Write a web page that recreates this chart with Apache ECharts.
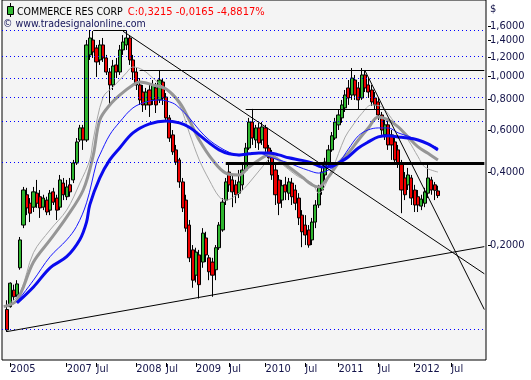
<!DOCTYPE html>
<html><head><meta charset="utf-8">
<script src="https://cdn.jsdelivr.net/npm/echarts@6/dist/echarts.min.js"></script>
<style>html,body{margin:0;padding:0;background:#fff}#c{width:531px;height:380px}</style>
</head><body><div id="c"></div>
<script>
// ---------- DATA ----------
const N_BARS = 146;             // category slots on the x axis (incl. empty future slots)
const firstBar = 1;             // category index of the first candle
const xLabelIdx  = [2, 19, 28, 40, 49, 58, 68, 79, 91, 101, 113, 124, 135];
const xLabelText = ['2005','2007','Jul','2008','Jul','2009','Jul','2010','Jul','2011','Jul','2012','Jul'];
const yTickValues = [0.2, 0.4, 0.6, 0.8, 1.0, 1.2, 1.4, 1.6];
const yMin = 0.0675, yMax = 2.058;

const opens = [0.109,0.112,0.131,0.125,0.162,0.243,0.324,0.299,0.288,0.329,0.318,0.288,0.308,0.280,0.333,0.314,0.288,0.362,0.318,0.356,
0.373,0.438,0.545,0.611,0.545,1.222,1.408,1.305,1.165,1.343,1.187,1.039,0.919,1.111,1.039,1.281,1.343,1.435,1.165,1.039,
0.919,0.859,0.760,0.876,0.797,0.893,0.797,0.945,0.819,0.672,0.572,0.496,0.451,0.366,0.308,0.243,0.192,0.151,0.183,0.171,
0.215,0.178,0.171,0.159,0.196,0.232,0.308,0.402,0.373,0.356,0.329,0.356,0.410,0.505,0.646,0.545,0.611,0.545,0.611,0.505,
0.473,0.410,0.373,0.308,0.356,0.329,0.362,0.339,0.314,0.267,0.243,0.232,0.211,0.250,0.294,0.339,0.391,0.438,0.496,0.555,
0.629,0.672,0.739,0.893,0.835,0.963,0.893,0.812,1.010,0.919,0.876,0.812,0.782,0.691,0.572,0.629,0.572,0.535,0.496,0.438,
0.380,0.356,0.380,0.339,0.318,0.291,0.299,0.329,0.373,0.356,0.336];
const closes = [0.0898,0.140,0.123,0.139,0.211,0.339,0.286,0.272,0.333,0.299,0.286,0.314,0.275,0.329,0.302,0.280,0.373,0.324,0.349,0.333,
0.438,0.535,0.611,0.545,1.343,1.435,1.257,1.143,1.343,1.187,1.039,0.919,1.100,1.039,1.281,1.381,1.435,1.165,1.039,0.919,
0.797,0.760,0.859,0.760,0.919,0.760,0.963,0.812,0.672,0.555,0.487,0.442,0.366,0.286,0.236,0.178,0.144,0.188,0.138,0.225,
0.183,0.156,0.151,0.196,0.243,0.302,0.366,0.356,0.333,0.324,0.366,0.410,0.505,0.646,0.555,0.611,0.530,0.617,0.505,0.460,
0.391,0.324,0.299,0.353,0.333,0.366,0.318,0.299,0.260,0.228,0.221,0.201,0.250,0.294,0.346,0.402,0.442,0.496,0.567,0.646,
0.691,0.760,0.835,0.812,0.981,0.835,0.797,1.010,0.893,0.859,0.782,0.760,0.691,0.599,0.629,0.520,0.520,0.451,0.438,0.339,
0.324,0.391,0.314,0.294,0.294,0.311,0.333,0.380,0.339,0.338,0.3215];
const lows = [0.0881,0.111,0.119,0.123,0.159,0.236,0.267,0.250,0.275,0.286,0.260,0.280,0.267,0.267,0.294,0.255,0.280,0.308,0.308,0.318,
0.362,0.430,0.535,0.496,0.535,1.165,1.187,0.991,1.111,1.143,1.010,0.746,0.876,0.981,1.010,1.222,1.281,1.111,0.963,0.876,
0.760,0.711,0.725,0.678,0.760,0.704,0.774,0.760,0.646,0.535,0.473,0.430,0.346,0.275,0.228,0.171,0.134,0.141,0.121,0.162,
0.171,0.144,0.123,0.144,0.192,0.228,0.294,0.333,0.288,0.299,0.314,0.339,0.402,0.496,0.520,0.505,0.496,0.520,0.487,0.430,
0.373,0.294,0.267,0.286,0.308,0.308,0.294,0.280,0.243,0.197,0.201,0.196,0.201,0.236,0.286,0.324,0.373,0.418,0.487,0.545,
0.599,0.641,0.711,0.760,0.797,0.797,0.725,0.797,0.859,0.812,0.753,0.725,0.659,0.572,0.545,0.496,0.451,0.430,0.418,0.272,
0.308,0.339,0.294,0.275,0.275,0.280,0.288,0.314,0.324,0.308,0.314];
const highs = [0.119,0.141,0.138,0.144,0.217,0.349,0.346,0.314,0.349,0.373,0.339,0.324,0.318,0.339,0.346,0.324,0.391,0.380,0.373,0.380,
0.451,0.555,0.629,0.629,1.408,1.548,1.533,1.343,1.408,1.435,1.222,1.079,1.165,1.187,1.343,1.475,1.548,1.475,1.222,1.079,
0.981,0.919,0.893,0.919,0.963,0.937,1.059,0.981,0.851,0.691,0.599,0.520,0.460,0.380,0.324,0.255,0.201,0.196,0.192,0.236,
0.228,0.183,0.178,0.201,0.250,0.314,0.380,0.430,0.391,0.373,0.410,0.430,0.530,0.672,0.732,0.629,0.641,0.646,0.629,0.520,
0.496,0.430,0.391,0.373,0.384,0.380,0.380,0.356,0.329,0.280,0.267,0.243,0.260,0.308,0.356,0.418,0.460,0.520,0.588,0.672,
0.725,0.797,0.876,0.963,1.079,1.010,0.945,1.079,1.059,0.981,0.919,0.859,0.812,0.711,0.659,0.659,0.599,0.555,0.520,0.451,
0.402,0.418,0.391,0.356,0.339,0.324,0.346,0.430,0.384,0.366,0.353];

// moving-average lines (category index / value)
const maThinGrayIdx = [2,5,9,14,19,23,26,27,30,33,37,39,42,45,49,53,56,59,62,65,67,71,74,79,81,85,89,93,95,99,103,105,108,111,114,118,122,125,127,131];
const maThinGrayVal = [0.116,0.128,0.187,0.232,0.280,0.362,0.451,0.545,0.819,0.901,1.030,1.090,1.059,0.981,0.876,0.760,0.583,0.451,0.373,0.318,0.308,0.329,0.362,0.438,0.465,0.422,0.384,0.362,0.329,0.410,0.560,0.617,0.700,0.760,0.746,0.641,0.545,0.465,0.422,0.402];
const maThickGrayIdx = [0,4,9,14,19,24,27,29,32,35,39,41,45,49,53,56,59,63,67,71,74,77,80,83,86,90,93,95,98,101,104,107,110,113,116,119,122,125,128,131];
const maThickGrayVal = [0.112,0.119,0.171,0.211,0.262,0.339,0.470,0.659,0.760,0.835,0.919,0.945,0.919,0.884,0.780,0.659,0.545,0.451,0.398,0.391,0.422,0.451,0.473,0.451,0.422,0.384,0.356,0.349,0.384,0.438,0.482,0.545,0.610,0.678,0.659,0.617,0.561,0.510,0.480,0.451];
const maThinBlueIdx = [4,9,14,19,22,25,28,29,32,35,39,43,47,51,53,56,59,62,65,68,71,74,77,80,83,86,89,92,95,98,101,104,107,110,113,116,119,122,125,128,131];
const maThinBlueVal = [0.117,0.144,0.180,0.211,0.240,0.300,0.438,0.473,0.572,0.646,0.739,0.782,0.797,0.774,0.739,0.672,0.599,0.545,0.510,0.485,0.469,0.475,0.482,0.465,0.451,0.438,0.422,0.408,0.398,0.410,0.438,0.500,0.567,0.600,0.611,0.611,0.583,0.565,0.545,0.525,0.505];
const maThickBlueIdx = [4,9,14,19,23,25,26,29,32,35,39,44,49,53,56,59,62,65,68,71,74,77,80,83,86,90,93,96,99,101,104,107,110,113,116,119,122,125,128,131];
const maThickBlueVal = [0.116,0.135,0.162,0.180,0.212,0.250,0.295,0.380,0.451,0.505,0.583,0.635,0.653,0.641,0.615,0.572,0.530,0.496,0.478,0.473,0.478,0.482,0.482,0.473,0.460,0.449,0.438,0.422,0.425,0.438,0.465,0.505,0.535,0.561,0.567,0.561,0.555,0.545,0.525,0.496];

// dotted horizontal levels and drawn trend / support lines
const dottedLevels = [1.538, 1.209, 0.984, 0.817, 0.653, 0.437, 0.0892];
const lineFrom  = [[27,1.54],[41,1.059],[73,0.729],[67,0.435],[36,1.53],[1,0.0884],[109,1.052]];
const lineTo    = [[37,1.54],[145,1.059],[145,0.729],[145,0.435],[145,0.153],[145,0.198],[145,0.109]];
const lineWidth = [1,1,1,3,1,1,1];

// ---------- CHART ----------
const FONT = "'DejaVu Sans Condensed','Liberation Sans Narrow','DejaVu Sans',sans-serif";
const AX_COLOR = '#14144a';
const cats = Array.from({length: N_BARS}, (_, i) => 'b' + i);
const labelMap = {};
xLabelIdx.forEach((k, j) => { labelMap[k] = xLabelText[j]; });
const candleData = cats.map((_, i) => {
  const k = i - firstBar;
  return (k >= 0 && k < opens.length) ? [opens[k], closes[k], lows[k], highs[k]] : '-';
});
const ma = (idx, vals, color, width) => ({
  type: 'line', data: idx.map((x, j) => [x, vals[j]]), smooth: 0.35, symbol: 'none',
  lineStyle: {color: color, width: width}, silent: true, z: 4
});
const mlData = [];
dottedLevels.forEach(v => mlData.push({yAxis: v, lineStyle: {color: '#0000ff', width: 1, type: [1, 3]}}));
lineFrom.forEach((f, j) => mlData.push([
  {coord: f, lineStyle: {color: '#000', width: lineWidth[j], type: 'solid'}},
  {coord: lineTo[j]}
]));

const chart = echarts.init(document.getElementById('c'));
chart.setOption({
  animation: false,
  backgroundColor: '#ffffff',
  title: [
    {left: 17, top: 3, padding: 0,
     text: '{a|COMMERCE RES CORP} {b|C:0,3215 -0,0165 -4,8817%}',
     textStyle: {fontWeight: 'normal', rich: {
       a: {color: '#000', fontSize: 10.5, fontWeight: 'normal', fontFamily: FONT},
       b: {color: '#ff0000', fontSize: 11, fontWeight: 'normal', fontFamily: FONT}}}},
    {left: 3, top: 19, padding: 0, text: '\u00a9 www.tradesignalonline.com',
     textStyle: {color: '#14145a', fontSize: 10.5, fontWeight: 'normal', fontFamily: FONT}}
  ],
  graphic: [
    {type: 'line', shape: {x1: 10.5, y1: 3, x2: 10.5, y2: 17}, style: {stroke: '#000', lineWidth: 1}, z: 100},
    {type: 'rect', shape: {x: 7.5, y: 6.5, width: 6, height: 8}, style: {fill: '#33bb33', stroke: '#000', lineWidth: 1}, z: 101},
    {type: 'text', left: 490, top: 4, style: {text: '$', fill: AX_COLOR, font: '11px ' + FONT}}
  ],
  grid: {left: 2, right: 45, top: 0, bottom: 20, show: true, backgroundColor: '#f4f4f4', borderColor: '#000', borderWidth: 1},
  xAxis: {
    type: 'category', data: cats, boundaryGap: true, offset: 3,
    axisLine: {show: false},
    axisTick: {show: true, alignWithLabel: true, length: 4, interval: i => (i in labelMap), lineStyle: {color: '#000'}},
    axisLabel: {interval: i => (i in labelMap), formatter: (v, i) => labelMap[i] || '', align: 'left', margin: 1,
      color: AX_COLOR, fontSize: 11, fontFamily: FONT},
    splitLine: {show: false}
  },
  yAxis: {
    type: 'log', position: 'right', min: yMin, max: yMax, offset: 2,
    axisLine: {show: false},
    axisTick: {show: true, length: 3, customValues: yTickValues, lineStyle: {color: '#000'}},
    axisLabel: {customValues: yTickValues, formatter: v => Number(v).toFixed(4).replace('.', ','), margin: 2,
      color: AX_COLOR, fontSize: 11, fontFamily: FONT},
    splitLine: {show: false}
  },
  series: [
    {type: 'candlestick', data: candleData, barWidth: 3.6,
     itemStyle: {color: '#2fb62f', color0: '#ee0000', borderColor: '#000', borderColor0: '#000', borderWidth: 1},
     markLine: {silent: true, symbol: ['none', 'none'], label: {show: false}, data: mlData, z: 6},
     z: 2},
    ma(maThinGrayIdx, maThinGrayVal, '#a8a8a8', 1),
    ma(maThickGrayIdx, maThickGrayVal, '#969696', 3),
    ma(maThinBlueIdx, maThinBlueVal, '#1a1aff', 1),
    ma(maThickBlueIdx, maThickBlueVal, '#0a0aee', 3)
  ]
});
</script></body></html>
